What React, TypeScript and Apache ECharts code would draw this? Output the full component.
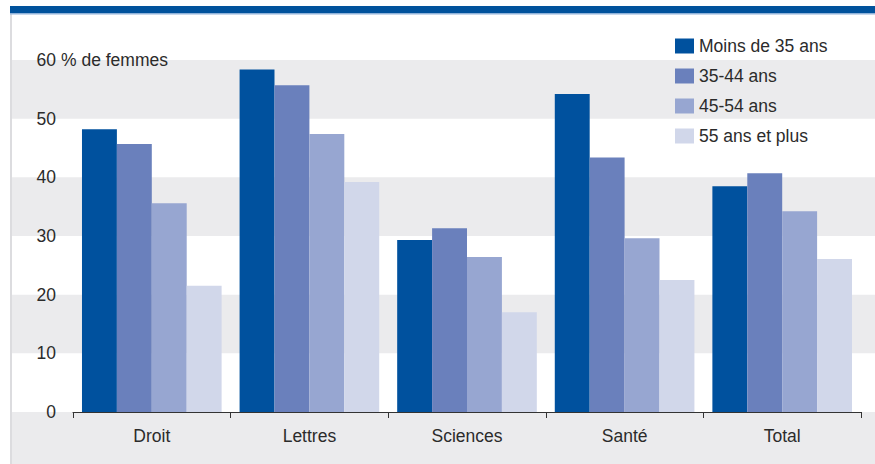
import React, { useEffect, useRef } from "react";
import * as echarts from "echarts";

const categories = ["Droit", "Lettres", "Sciences", "Santé", "Total"];
const seriesNames = ["Moins de 35 ans", "35-44 ans", "45-54 ans", "55 ans et plus"];
const moins35 = [48.2, 58.4, 29.3, 54.2, 38.5];
const ans3544 = [45.7, 55.7, 31.3, 43.4, 40.7];
const ans4554 = [35.6, 47.4, 26.4, 29.6, 34.2];
const ans55plus = [21.5, 39.2, 17.0, 22.5, 26.1];
const yTicks = [0, 10, 20, 30, 40, 50, 60];
const colors = ["#00519e", "#6a80bc", "#97a6d1", "#d1d7ea"];

const FONT = "'Liberation Sans', Arial, sans-serif";
const FS = 17.5;
const TEXT = "#2b2b2b";
const BAND = "#ebebed";

export default function App() {
  const ref = useRef<HTMLDivElement>(null);
  useEffect(() => {
    if (!ref.current) return;
    document.body.style.margin = "0";
    const chart = echarts.init(ref.current, null, { renderer: "svg" });
    const data = [moins35, ans3544, ans4554, ans55plus];
    chart.setOption({
      animation: false,
      backgroundColor: "#ffffff",
      grid: { left: 73, right: 14, top: 60, bottom: 52 },
      legend: {
        orient: "vertical",
        left: 670,
        top: 32,
        itemWidth: 19,
        itemHeight: 15,
        itemGap: 12,
        icon: "rect",
        selectedMode: false,
        data: seriesNames,
        textStyle: { fontFamily: FONT, fontSize: FS, color: TEXT, lineHeight: 18 },
      },
      xAxis: {
        type: "category",
        data: categories,
        axisLine: { show: true, lineStyle: { color: "#333", width: 1 } },
        axisTick: { show: true, length: 6, lineStyle: { color: "#333" } },
        axisLabel: { fontFamily: FONT, fontSize: FS, color: TEXT, margin: 15 },
        splitLine: { show: false },
      },
      yAxis: {
        type: "value",
        min: 0,
        max: 60,
        interval: 10,
        axisLine: { show: false },
        axisTick: { show: false },
        splitLine: { show: false },
        axisLabel: {
          fontFamily: FONT,
          fontSize: FS,
          color: TEXT,
          margin: 17,
          formatter: (v: number) => (yTicks.includes(v) ? String(v) : ""),
        },
      },
      series: seriesNames.map((name, i) => ({
        name,
        type: "bar",
        data: data[i],
        barGap: "0%",
        barCategoryGap: "11.4%",
        itemStyle: { color: colors[i] },
        z: 3,
      })),
    });

    // background stripes computed from the y scale
    const W = 875;
    const H = 464;
    const py = (v: number) => chart.convertToPixel({ yAxisIndex: 0 }, v) as number;
    const els: any[] = [];
    for (let v = 50; v >= 10; v -= 20) {
      const top = py(v + 10);
      const bot = py(v);
      els.push({
        type: "rect",
        shape: { x: 12, y: top, width: W - 12, height: bot - top },
        style: { fill: BAND },
        z: -10,
        silent: true,
      });
    }
    const y0 = py(0);
    els.push({
      type: "rect",
      shape: { x: 12, y: y0, width: W - 12, height: H - y0 },
      style: { fill: BAND },
      z: -10,
      silent: true,
    });
    // left frame line
    els.push({
      type: "rect",
      shape: { x: 10, y: 14, width: 2, height: H - 14 },
      style: { fill: "#dcdcdf" },
      z: -9,
      silent: true,
    });
    // top blue band
    els.push({
      type: "rect",
      shape: { x: 10, y: 6, width: W - 10, height: 7 },
      style: { fill: "#00529c" },
      z: 5,
      silent: true,
    });
    els.push({
      type: "rect",
      shape: { x: 10, y: 13, width: W - 10, height: 1.5 },
      style: { fill: "#8fb2d9" },
      z: 5,
      silent: true,
    });
    const y60 = py(60);
    els.push({
      type: "text",
      x: 61,
      y: y60,
      style: {
        text: "% de femmes",
        fontFamily: FONT,
        fontSize: FS,
        fill: TEXT,
        align: "left",
        verticalAlign: "middle",
      },
      z: 5,
      silent: true,
    });
    chart.setOption({ graphic: els });

    return () => chart.dispose();
  }, []);
  return <div ref={ref} style={{ width: 875, height: 464 }} />;
}
